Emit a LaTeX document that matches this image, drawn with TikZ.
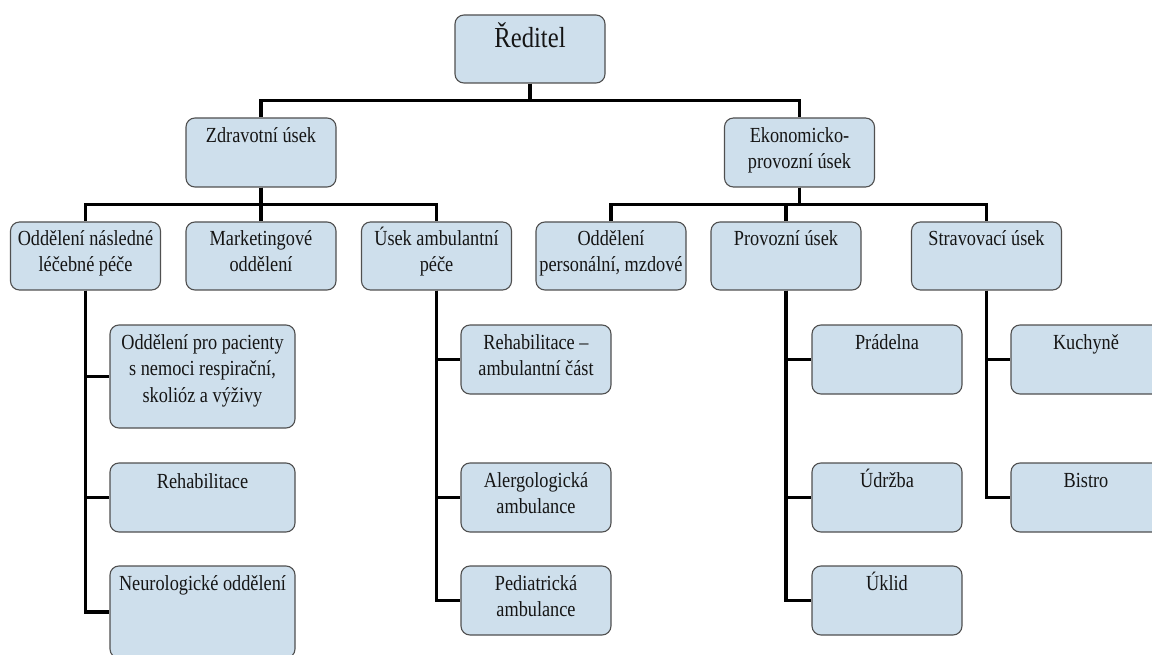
\documentclass[tikz,border=0pt]{standalone}
\usepackage{fontspec}
\setmainfont{Liberation Serif}[FakeStretch=0.85]
\definecolor{boxfill}{HTML}{CEDFEC}
\definecolor{boxline}{HTML}{505050}
\definecolor{txtcol}{HTML}{151515}
\begin{document}
\begin{tikzpicture}[x=1pt,y=-1pt,
  box/.style={draw=boxline, fill=boxfill, line width=1.1pt, rounded corners=9pt,
              inner sep=0pt, minimum height=68pt},
  w150/.style={minimum width=150pt},
  w185/.style={minimum width=185pt},
  txt/.style={anchor=base, align=center, inner sep=0pt, text=txtcol,
              font=\fontsize{21.5}{26.5}\selectfont},
  big/.style={font=\fontsize{29}{34}\selectfont},
  conn/.style={line width=3.5pt, black}]
\useasboundingbox (0,0) rectangle (1152,655);
\clip (0,0) rectangle (1152,655);
\fill[white] (0,0) rectangle (1152,655);

% ---------- boxes ----------
\node[box,w150] (dir) at (530,49) {};
\node[box,w150,minimum height=69pt] (zdr) at (261,152.5) {};
\node[box,w150,minimum height=69pt] (eko) at (799.5,152.5) {};

\node[box,w150] (ond) at (85.5,256) {};
\node[box,w150] (mkt) at (261,256) {};
\node[box,w150] (amb) at (436.5,256) {};
\node[box,w150] (per) at (611,256) {};
\node[box,w150] (prv) at (786,256) {};
\node[box,w150] (str) at (986.5,256) {};

\node[box,w185,minimum height=103pt] (pac) at (202.5,376.5) {};
\node[box,w185,minimum height=69pt] (reh) at (202.5,497.5) {};
\node[box,w185,minimum height=92pt] (neu) at (202.5,612) {};

\node[box,w150,minimum height=69pt] (ra) at (536,359.5) {};
\node[box,w150,minimum height=69pt] (al) at (536,497.5) {};
\node[box,w150,minimum height=69pt] (ped) at (536,600.5) {};

\node[box,w150,minimum height=69pt] (pra) at (887,359.5) {};
\node[box,w150,minimum height=69pt] (udr) at (887,497.5) {};
\node[box,w150,minimum height=69pt] (ukl) at (887,600.5) {};

\node[box,w150,minimum height=69pt] (kuc) at (1086,359.5) {};
\node[box,w150,minimum height=69pt] (bis) at (1086,497.5) {};

% ---------- texts (base = last line's baseline) ----------
\node[txt,big] (dir-t) at ([yshift=-33pt]dir.north) {Ředitel};
\node[txt] (zdr-t) at ([yshift=-25pt]zdr.north) {Zdravotní úsek};
\node[txt] (eko-t) at ([yshift=-51.5pt]eko.north) {Ekonomicko-\\provozní úsek};

\node[txt] (ond-t) at ([yshift=-50.5pt]ond.north) {Oddělení následné\\léčebné péče};
\node[txt] (mkt-t) at ([yshift=-50.5pt]mkt.north) {Marketingové\\oddělení};
\node[txt] (amb-t) at ([yshift=-50.5pt]amb.north) {Úsek ambulantní\\péče};
\node[txt] (per-t) at ([yshift=-50.5pt]per.north) {Oddělení\\personální, mzdové};
\node[txt] (prv-t) at ([yshift=-24pt]prv.north) {Provozní úsek};
\node[txt] (str-t) at ([yshift=-24pt]str.north) {Stravovací úsek};

\node[txt] (pac-t) at ([yshift=-78pt]pac.north) {Oddělení pro pacienty\\s nemoci respirační,\\skolióz a výživy};
\node[txt] (reh-t) at ([yshift=-26pt]reh.north) {Rehabilitace};
\node[txt] (neu-t) at ([yshift=-25pt]neu.north) {Neurologické oddělení};

\node[txt] (ra-t) at ([yshift=-51.5pt]ra.north) {Rehabilitace –\\ambulantní část};
\node[txt] (al-t) at ([yshift=-51.5pt]al.north) {Alergologická\\ambulance};
\node[txt] (ped-t) at ([yshift=-51.5pt]ped.north) {Pediatrická\\ambulance};

\node[txt] (pra-t) at ([yshift=-25pt]pra.north) {Prádelna};
\node[txt] (udr-t) at ([yshift=-25pt]udr.north) {Údržba};
\node[txt] (ukl-t) at ([yshift=-25pt]ukl.north) {Úklid};

\node[txt] (kuc-t) at ([yshift=-25pt]kuc.north) {Kuchyně};
\node[txt] (bis-t) at ([yshift=-25pt]bis.north) {Bistro};

% ---------- connectors ----------
\draw[conn] (dir.south) -- ++(0,17) -| (zdr.north);
\draw[conn] (dir.south) -- ++(0,17) -| (eko.north);

\draw[conn] (zdr.south) -- ++(0,17) -| (ond.north);
\draw[conn] (zdr.south) -- (mkt.north);
\draw[conn] (zdr.south) -- ++(0,17) -| (amb.north);

\draw[conn] (eko.south) -- ++(0,17) -| (per.north);
\draw[conn] (eko.south) -- ++(0,17) -| (prv.north);
\draw[conn] (eko.south) -- ++(0,17) -| (str.north);

\draw[conn] (ond.south) |- (pac.west);
\draw[conn] (ond.south) |- (reh.west);
\draw[conn] (ond.south) |- (neu.west);

\draw[conn] (amb.south) |- (ra.west);
\draw[conn] (amb.south) |- (al.west);
\draw[conn] (amb.south) |- (ped.west);

\draw[conn] (prv.south) |- (pra.west);
\draw[conn] (prv.south) |- (udr.west);
\draw[conn] (prv.south) |- (ukl.west);

\draw[conn] (str.south) |- (kuc.west);
\draw[conn] (str.south) |- (bis.west);
\end{tikzpicture}
\end{document}
